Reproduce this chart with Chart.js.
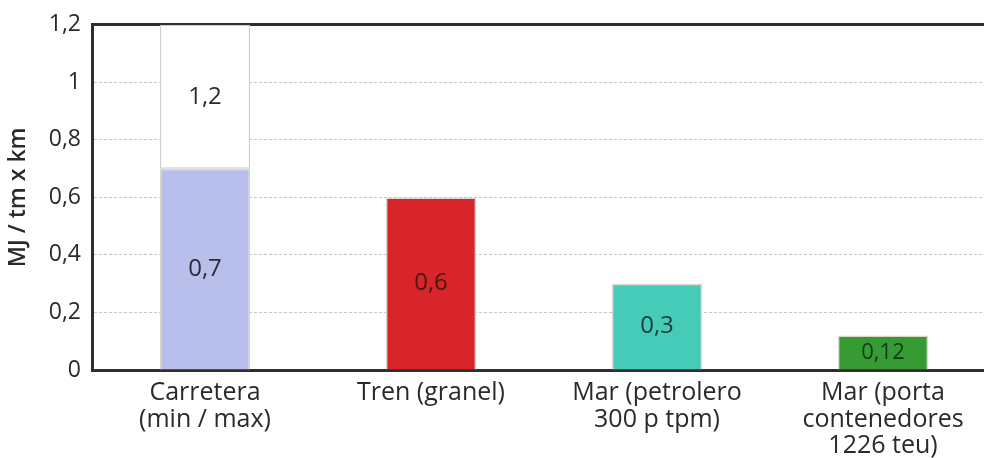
<!DOCTYPE html>
<html>
<head>
<meta charset="utf-8">
<script src="https://cdn.jsdelivr.net/npm/chart.js@4/dist/chart.umd.min.js"></script>
<style>
  html, body { margin: 0; padding: 0; background: #fff; overflow: hidden; }
  #wrap { width: 984px; height: 458px; overflow: hidden; }
  #box { width: 996px; height: 458px; }
</style>
</head>
<body>
<div id="wrap"><div id="box"><canvas id="c"></canvas></div></div>
<script>
// Energy use per tonne-kilometre by transport mode
const categories = [
  ["Carretera", "(min / max)"],
  ["Tren (granel)"],
  ["Mar (petrolero", "300 p tpm)"],
  ["Mar (porta", "contenedores", "1226 teu)"]
];
const minValues = [0.7, 0.6, 0.3, 0.12];   // min value (or single value) per mode
const maxValues = [1.2, null, null, null]; // max value, road only
const yTicks = [0, 0.2, 0.4, 0.6, 0.8, 1, 1.2];
const barColors = ["#b7bfea", "#d8242b", "#47cbb9", "#369b33"];
const labelColors = ["#2c2c3a", "#4a1612", "#1d3b38", "#16361a"];

const FONT = "'Open Sans', sans-serif";
const fmt = v => String(v).replace(".", ",");

// floating bars from the min up to the max
const maxRanges = maxValues.map((v, i) => v == null ? null : [minValues[i], v]);

const valueLabels = {
  id: "valueLabels",
  afterDatasetsDraw(chart) {
    const ctx = chart.ctx;
    ctx.save();
    ctx.textAlign = "center";
    ctx.textBaseline = "middle";
    chart.data.datasets.forEach((ds, di) => {
      const meta = chart.getDatasetMeta(di);
      meta.data.forEach((bar, i) => {
        const raw = ds.data[i];
        if (raw == null) return;
        const value = Array.isArray(raw) ? raw[1] : raw;
        const p = bar.getProps(["x", "y", "base"], true);
        ctx.font = (value < 0.2 ? "22px " : "24px ") + FONT;
        ctx.fillStyle = di === 0 ? labelColors[i] : "#2c2c2c";
        ctx.fillText(fmt(value), p.x, (p.y + p.base) / 2);
      });
    });
    ctx.restore();
  }
};

new Chart(document.getElementById("c"), {
  type: "bar",
  data: {
    labels: categories,
    datasets: [
      {
        label: "min",
        data: minValues,
        backgroundColor: barColors,
        borderColor: "#ddd6c8",
        borderWidth: 1.5,
        borderSkipped: "bottom",
        barPercentage: 0.4,
        categoryPercentage: 1
      },
      {
        label: "max",
        data: maxRanges,
        backgroundColor: "#ffffff",
        borderColor: "#d3cec6",
        borderWidth: 1.5,
        borderSkipped: false,
        barPercentage: 0.4,
        categoryPercentage: 1
      }
    ]
  },
  options: {
    responsive: true,
    maintainAspectRatio: false,
    animation: false,
    layout: { padding: { top: 22, left: 5, right: 0, bottom: 0 } },
    plugins: { legend: { display: false }, tooltip: { enabled: false } },
    datasets: { bar: { grouped: false } },
    scales: {
      x: {
        grid: { display: false, drawTicks: false },
        border: { display: true, color: "#2e2e2e", width: 3 },
        ticks: {
          color: "#2a2a2a",
          font: { family: FONT, size: 25, lineHeight: 1.06 },
          padding: 10,
          maxRotation: 0,
          autoSkip: false
        },
        afterFit: s => { s.height = 88; }
      },
      xTop: {
        position: "top",
        grid: { display: false, drawTicks: false },
        border: { display: true, color: "#2e2e2e", width: 3 },
        ticks: { display: false },
        afterFit: s => { s.height = 0; }
      },
      y: {
        min: 0,
        max: 1.2,
        afterBuildTicks: s => { s.ticks = yTicks.map(v => ({ value: v })); },
        grid: {
          color: c => (c.tick.value === 0 || c.tick.value === 1.2) ? "rgba(0,0,0,0)" : "#c6c6c6",
          lineWidth: 1,
          drawTicks: false
        },
        // border.dash sets the dash pattern of the grid lines
        border: { display: true, color: "#2e2e2e", width: 3, dash: [3, 2] },
        ticks: {
          color: "#2a2a2a",
          font: { family: FONT, size: 23 },
          padding: 11,
          callback: v => fmt(v)
        },
        title: {
          display: true,
          text: "MJ / tm x km",
          color: "#2a2a2a",
          font: { family: FONT, size: 23, weight: "600" },
          padding: { top: 0, bottom: 0 }
        },
        afterFit: s => { s.width = 87; }
      }
    }
  },
  plugins: [valueLabels]
});
</script>
</body>
</html>
